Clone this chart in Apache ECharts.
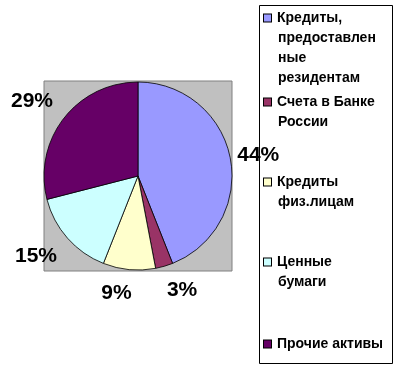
<!DOCTYPE html>
<html>
<head>
<meta charset="utf-8">
<script src="https://cdn.jsdelivr.net/npm/echarts@6/dist/echarts.min.js"></script>
<style>
html,body{margin:0;padding:0;background:#fff;}
#c{width:407px;height:370px;}
</style>
</head>
<body>
<div id="c"></div>
<script>
// Data
var categories = [
  'Кредиты, предоставленные резидентам',
  'Счета в Банке России',
  'Кредиты физ.лицам',
  'Ценные бумаги',
  'Прочие активы'
];
var legendLines = [
  ['Кредиты,', 'предоставлен', 'ные', 'резидентам'],
  ['Счета в Банке', 'России'],
  ['Кредиты', 'физ.лицам'],
  ['Ценные', 'бумаги'],
  ['Прочие активы']
];
var values = [44, 3, 9, 15, 29];
var colors = ['#9999FF', '#993366', '#FFFFCC', '#CCFFFF', '#660066'];

var chart = echarts.init(document.getElementById('c'), null, {renderer: 'canvas'});

var labelShift = [[-1, -2], [-1, 18], [5, 18], [-4, 14], [-4, -14]];
var legendTops = [8, 92, 172, 252, 334];

var rich = {
  g: {width: 6},
  ind: {width: 14}
};
colors.forEach(function (c, i) {
  rich['s' + i] = {width: 7, height: 7, backgroundColor: c, borderColor: '#000', borderWidth: 1};
});

var legends = categories.map(function (name, i) {
  return {
    left: 259,
    top: legendTops[i],
    orient: 'vertical',
    padding: 0,
    itemWidth: 0,
    itemHeight: 8,
    icon: 'none',
    selectedMode: false,
    data: [name],
    formatter: function () {
      return legendLines[i].map(function (l, k) {
        return (k === 0 ? '{s' + i + '|}{g|}' : '{ind|}') + l;
      }).join('\n');
    },
    textStyle: {
      fontFamily: 'Liberation Sans, Arial, sans-serif',
      fontWeight: 'bold',
      fontSize: 14,
      lineHeight: 20,
      color: '#000',
      rich: rich
    }
  };
});

chart.setOption({
  animation: false,
  backgroundColor: '#fff',
  color: colors,
  graphic: [
    {type: 'rect', shape: {x: 44, y: 81, width: 188, height: 190}, style: {fill: '#C0C0C0', stroke: '#808080', lineWidth: 1}, z: -10},
    {type: 'rect', shape: {x: 259.5, y: 5.5, width: 133, height: 358}, style: {fill: '#fff', stroke: '#000', lineWidth: 1}, z: -10}
  ],
  legend: legends,
  series: [{
    type: 'pie',
    center: [138, 176],
    radius: 94,
    startAngle: 90,
    clockwise: true,
    avoidLabelOverlap: false,
    data: categories.map(function (n, i) { return {name: n, value: values[i]}; }),
    itemStyle: {borderColor: '#000', borderWidth: 0.8},
    label: {
      show: true,
      position: 'outside',
      formatter: '{c}%',
      fontFamily: 'Liberation Sans, Arial, sans-serif',
      fontWeight: 'bold',
      fontSize: 21,
      color: '#000',
      distanceToLabelLine: 2
    },
    labelLine: {show: false, length: 6, length2: 0},
    labelLayout: function (p) {
      return {dx: labelShift[p.dataIndex][0], dy: labelShift[p.dataIndex][1]};
    },
    emphasis: {disabled: true}
  }]
});
</script>
</body>
</html>
